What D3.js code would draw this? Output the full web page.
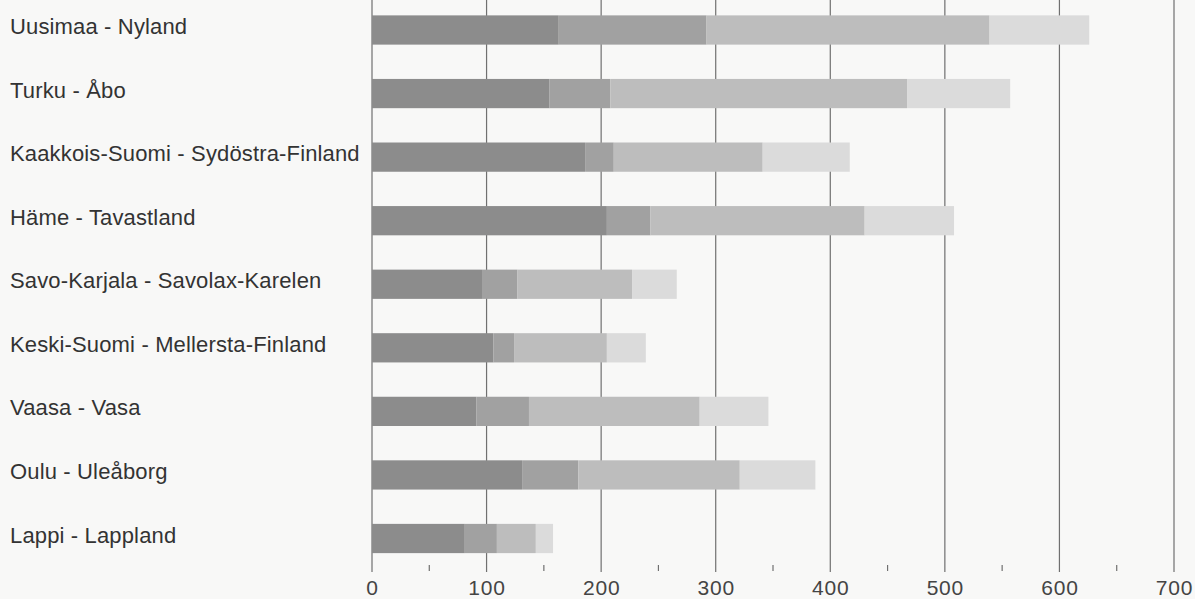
<!DOCTYPE html>
<html>
<head>
<meta charset="utf-8">
<script src="https://cdn.jsdelivr.net/npm/d3@7"></script>
<style>
  html, body { margin: 0; padding: 0; background: #f8f8f7; }
  svg { display: block; }
</style>
</head>
<body>
<svg id="chart" width="1195" height="599"></svg>
<script>
const categories = [
  "Uusimaa - Nyland",
  "Turku - Åbo",
  "Kaakkois-Suomi - Sydöstra-Finland",
  "Häme - Tavastland",
  "Savo-Karjala - Savolax-Karelen",
  "Keski-Suomi - Mellersta-Finland",
  "Vaasa - Vasa",
  "Oulu - Uleåborg",
  "Lappi - Lappland"
];
const series1 = [163, 155, 186, 205, 96, 106, 91, 131, 81];
const series2 = [129, 53, 25, 38, 31, 18, 46, 49, 28];
const series3 = [247, 259, 130, 187, 100, 81, 149, 141, 34];
const series4 = [87, 90, 76, 78, 39, 34, 60, 66, 15];
const majorTicks = [0, 100, 200, 300, 400, 500, 600, 700];
const minorTicks = [50, 150, 250, 350, 450, 550, 650];
const seriesKeys = ["s1", "s2", "s3", "s4"];
const colors = ["#8c8c8c", "#a1a1a1", "#bdbdbd", "#dbdbdb"];

const svg = d3.select("#chart");
const x = d3.scaleLinear().domain([0, 700]).range([372, 1174]);
const stepPx = (538.5 - 30) / 8;
const y = d3.scaleBand()
  .domain(categories)
  .range([30 - stepPx / 2, 538.5 + stepPx / 2])
  .paddingInner(0.54)
  .paddingOuter(0.27);

const table = categories.map((c, i) => ({
  cat: c, s1: series1[i], s2: series2[i], s3: series3[i], s4: series4[i]
}));
const stacked = d3.stack().keys(seriesKeys)(table);

// gridlines
svg.append("g").selectAll("line").data(majorTicks).join("line")
  .attr("x1", d => x(d)).attr("x2", d => x(d))
  .attr("y1", 0).attr("y2", 572)
  .attr("stroke", "#707070").attr("stroke-width", 1.2);

// minor ticks
svg.append("g").selectAll("line").data(minorTicks).join("line")
  .attr("x1", d => x(d)).attr("x2", d => x(d))
  .attr("y1", 565).attr("y2", 571)
  .attr("stroke", "#707070").attr("stroke-width", 1.2);

// bars
svg.append("g").selectAll("g").data(stacked).join("g")
  .attr("fill", (d, i) => colors[i])
  .selectAll("rect").data(d => d).join("rect")
  .attr("x", d => x(d[0]))
  .attr("width", d => x(d[1]) - x(d[0]))
  .attr("y", d => y(d.data.cat))
  .attr("height", y.bandwidth());

// category labels
svg.append("g").selectAll("text").data(categories).join("text")
  .attr("x", 10)
  .attr("y", d => y(d) + y.bandwidth() / 2 + 4)
  .attr("font-family", "Liberation Sans, Arial, Helvetica, sans-serif")
  .attr("font-size", 22)
  .attr("letter-spacing", "0.15px")
  .attr("fill", "#333")
  .text(d => d);

// x axis labels
const axis = d3.axisBottom(x).tickValues(majorTicks).tickSize(0).tickPadding(0);
const ag = svg.append("g").attr("transform", "translate(0,580)").call(axis);
ag.select(".domain").remove();
ag.selectAll("text")
  .attr("font-family", "Liberation Sans, Arial, Helvetica, sans-serif")
  .attr("font-size", 21)
  .attr("letter-spacing", "0.8px")
  .attr("fill", "#444")
  .attr("dy", "0.71em");
</script>
</body>
</html>
